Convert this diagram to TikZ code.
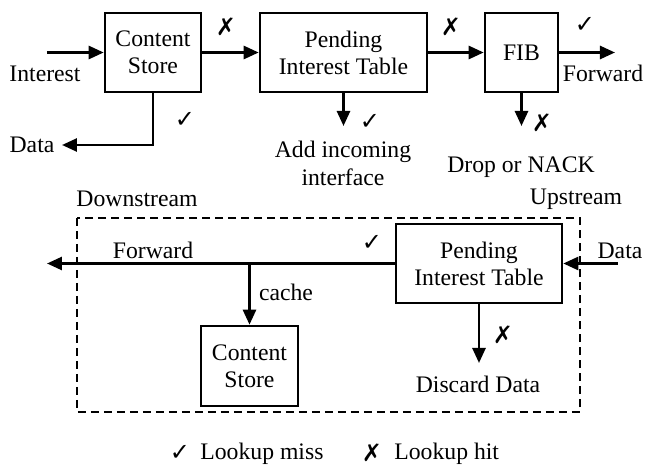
\documentclass[tikz,border=0pt]{standalone}
\usepackage{fontspec}
\setmainfont{Liberation Serif}
\newfontfamily\symfont{DejaVu Sans}
\usetikzlibrary{arrows.meta}
\newcommand{\ck}{{\symfont\fontsize{12}{12}\selectfont ✓}}
\newcommand{\xx}{{\symfont\fontsize{12}{12}\selectfont ✗}}
\begin{document}
\begin{tikzpicture}[x=0.5pt,y=-0.5pt,
  font=\fontsize{11.85}{13.5}\selectfont,
  box/.style={draw,line width=1.3pt,align=center,inner sep=0pt},
  arr/.style={line width=1.3pt,-{Triangle[length=7.5pt,width=6.5pt]}},
  txt/.style={inner sep=0pt},
  dashbox/.style={draw,line width=1pt,dash pattern=on 4pt off 2.5pt}]
\useasboundingbox (0,0) rectangle (645,466);
% top row
\node[box,minimum width=48pt,minimum height=39.5pt] (cs) at (153,52.5) {Content\\Store};
\node[box,minimum width=83.5pt,minimum height=39.5pt] (pit) at (343.5,52.5) {Pending\\Interest Table};
\node[box,minimum width=36.5pt,minimum height=39.5pt] (fib) at (521.5,52.5) {FIB};
\coordinate (intin) at (47,52.5);
\coordinate (fwdout) at (615,52.5);
\coordinate (fibdown) at (521.5,126);
\coordinate (pitdown) at (343.5,126);
\coordinate (dataout) at (62,145);
\draw[arr] (intin) -- (cs.west);
\draw[arr] (cs.east) -- (pit.west);
\draw[arr] (pit.east) -- (fib.west);
\draw[arr] (fib.east) -- (fwdout);
\draw[arr] (fib.south) -- (fibdown);
\draw[arr] (pit.south) -- (pitdown);
\draw[arr] (cs.south) |- (dataout);
\node[txt,anchor=base] (lint) at (45,81.5) {Interest};
\node[txt,anchor=base] (ldata) at (32,153) {Data};
\node[txt] (c1) at (185,120) {\ck};
\node[txt] (x1) at (226,27) {\xx};
\node[txt] (x2) at (451,27) {\xx};
\node[txt] (c2) at (585,25) {\ck};
\node[txt,anchor=base] (lfwd) at (603,82) {Forward};
\node[txt] (c3) at (370,122) {\ck};
\node[txt] (x3) at (542,123) {\xx};
\node[txt,align=center,anchor=base] (ladd) at (343,185) {Add incoming\\interface};
\node[txt,anchor=base] (ldrop) at (521,172) {Drop or NACK};
% bottom
\node[txt,anchor=base] (ldown) at (137,206) {Downstream};
\node[txt,anchor=base] (lup) at (576,205) {Upstream};
\draw[dashbox] (77,218) rectangle (580,412);
\node[box,minimum width=83pt,minimum height=39.5pt] (bpit) at (479,263.5) {Pending\\Interest Table};
\node[box,minimum width=48.5pt,minimum height=40pt] (bcs) at (249.5,366) {Content\\Store};
\coordinate (bfwd) at (47,263.5);
\coordinate (branch) at (249.5,263.5);
\coordinate (datain) at (618,263.5);
\coordinate (bdown) at (479,363);
\draw[arr] (bpit.west) -- (bfwd);
\draw[arr] (branch) -- (bcs.north);
\draw[arr] (datain) -- (bpit.east);
\draw[arr] (bpit.south) -- (bdown);
\node[txt,anchor=base] (lbfwd) at (153,258) {Forward};
\node[txt] (c4) at (372,243) {\ck};
\node[txt,anchor=base] (lcache) at (286,300) {cache};
\node[txt,anchor=base] (ldatain) at (620,258) {Data};
\node[txt] (x4) at (503,335) {\xx};
\node[txt,anchor=base] (ldisc) at (478,393) {Discard Data};
% legend
\node[txt] (lc) at (180,453) {\ck};
\node[txt,anchor=base west] (lmiss) at (200,460) {Lookup miss};
\node[txt] (lx) at (372,453) {\xx};
\node[txt,anchor=base west] (lhit) at (394,460) {Lookup hit};
\end{tikzpicture}
\end{document}
